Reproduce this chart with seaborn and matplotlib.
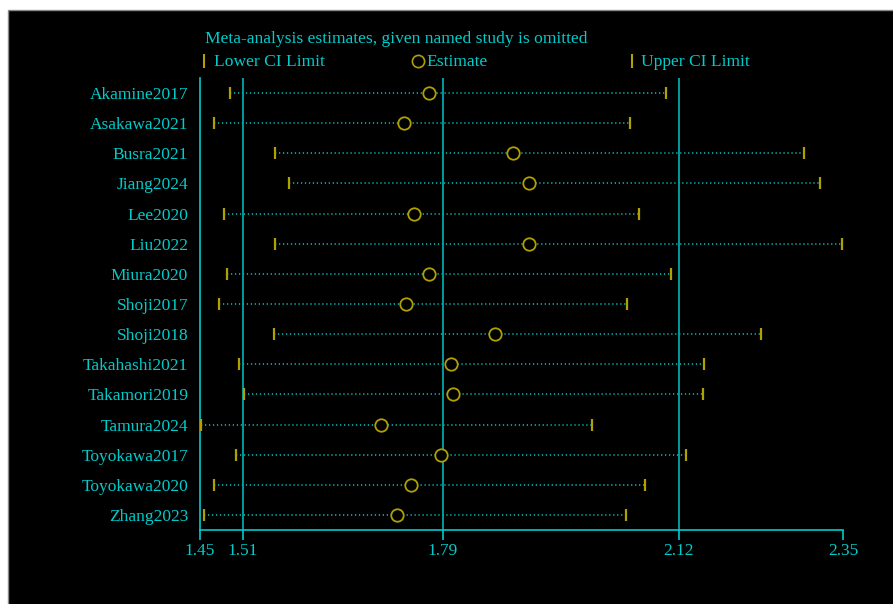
import numpy as np
import pandas as pd
import seaborn as sns
import matplotlib.pyplot as plt
from matplotlib.patches import Rectangle
from matplotlib.lines import Line2D

# leave-one-out estimates
studies = ["Akamine2017", "Asakawa2021", "Busra2021", "Jiang2024", "Lee2020",
           "Liu2022", "Miura2020", "Shoji2017", "Shoji2018", "Takahashi2021",
           "Takamori2019", "Tamura2024", "Toyokawa2017", "Toyokawa2020",
           "Zhang2023"]
estimate = [1.771, 1.736, 1.888, 1.911, 1.750, 1.911, 1.771, 1.738, 1.863,
            1.801, 1.804, 1.704, 1.788, 1.746, 1.726]
lower = [1.492, 1.469, 1.555, 1.575, 1.484, 1.555, 1.488, 1.476, 1.553,
         1.505, 1.511, 1.452, 1.501, 1.470, 1.456]
upper = [2.102, 2.052, 2.295, 2.318, 2.065, 2.348, 2.109, 2.048, 2.235,
         2.155, 2.154, 1.999, 2.130, 2.073, 2.046]
xticks = [1.45, 1.51, 1.79, 2.12, 2.35]
ref_lines = [1.51, 1.79, 2.12]

W, H = 893, 604
CYAN = "#00cccc"
TEAL = "#00a8a8"
OLIVE = "#b0a000"

df = pd.DataFrame({"study": studies, "estimate": estimate,
                   "lower": lower, "upper": upper})

sns.set_style("dark", {"axes.facecolor": "black"})
plt.rcParams["font.family"] = ["Liberation Serif", "DejaVu Serif"]

fig = plt.figure(figsize=(W / 100, H / 100), dpi=100, facecolor="white")
fig.patches.append(Rectangle((8 / W, -0.01), 1, 1.01 - 10 / H, transform=fig.transFigure,
                             facecolor="black", edgecolor="#8a8a8a", lw=1, zorder=-5))
ax = fig.add_axes([200 / W, 1 - 530 / H, (843 - 200) / W, (530 - 78) / H])
ax.set_facecolor("none")

ax.hlines(df["study"], df["lower"], df["upper"], colors=TEAL, lw=1.3,
          linestyles=[(0, (0.7, 1.5))], zorder=2)
sns.scatterplot(data=df, x="estimate", y="study", marker="o", s=80,
                color=OLIVE, facecolor="black", edgecolor=OLIVE, linewidth=1.3,
                zorder=4, ax=ax)
sns.scatterplot(data=df, x="lower", y="study", marker="|", s=85,
                color=OLIVE, linewidth=1.6, zorder=5, ax=ax)
sns.scatterplot(data=df, x="upper", y="study", marker="|", s=85,
                color=OLIVE, linewidth=1.6, zorder=5, ax=ax)

for v in ref_lines:
    ax.axvline(v, color=TEAL, lw=1.3, zorder=1)

ax.set_xlim(xticks[0], xticks[-1])
ax.set_ylim(len(studies) - 0.5, -0.5)
ax.set_xticks(xticks)
ax.set_xticklabels([f"{t:.2f}" for t in xticks])
ax.set_xlabel("")
ax.set_ylabel("")
ax.grid(False)
for side in ["top", "right"]:
    ax.spines[side].set_visible(False)
for side in ["left", "bottom"]:
    ax.spines[side].set_visible(True)
    ax.spines[side].set_color(CYAN)
    ax.spines[side].set_linewidth(1.2)
ax.tick_params(axis="x", colors=CYAN, length=7.5, width=1.2, direction="out",
               pad=2, labelsize=12.5, bottom=True)
ax.tick_params(axis="y", colors=CYAN, length=0, pad=8.5, labelsize=12.5)

# title and key
fig.text(205 / W, 1 - 42.7 / H, "Meta-analysis estimates, given named study is omitted",
         color=CYAN, fontsize=12.6, va="baseline", ha="left")
key_y = 1 - 60.5 / H
base_y = 1 - 65.7 / H
fig.add_artist(Line2D([204 / W], [key_y], marker="|", markersize=10, mew=1.5,
                      color=OLIVE, transform=fig.transFigure))
fig.text(214 / W, base_y, "Lower CI Limit", color=CYAN, fontsize=12.6, va="baseline")
fig.add_artist(Line2D([418 / W], [key_y], marker="o", markersize=8.8, mew=1.2,
                      mfc="none", color=OLIVE, transform=fig.transFigure))
fig.text(426 / W, base_y, "Estimate", color=CYAN, fontsize=12.6, va="baseline")
fig.add_artist(Line2D([632 / W], [key_y], marker="|", markersize=10, mew=1.5,
                      color=OLIVE, transform=fig.transFigure))
fig.text(641 / W, base_y, "Upper CI Limit", color=CYAN, fontsize=12.6, va="baseline")

fig.savefig("out.png", dpi=100, facecolor=fig.get_facecolor())
